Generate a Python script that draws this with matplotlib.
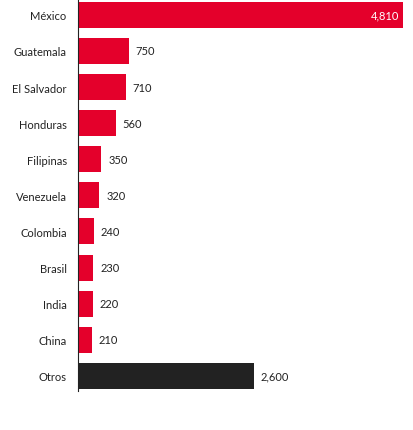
import matplotlib.pyplot as plt

countries = ['México', 'Guatemala', 'El Salvador', 'Honduras', 'Filipinas',
             'Venezuela', 'Colombia', 'Brasil', 'India', 'China', 'Otros']
values = [4810, 750, 710, 560, 350, 320, 240, 230, 220, 210, 2600]

plt.rcParams['font.family'] = ['Lato', 'DejaVu Sans']

fig = plt.figure(figsize=(4.14, 4.31), dpi=100)
ax = fig.add_axes([0.188, 0.0905, 0.785, 0.9095])

colors = ['#e4002b'] * (len(values) - 1) + ['#222222']
ypos = list(range(len(values)))
ax.barh(ypos, values, height=0.72, color=colors)

for y, v in zip(ypos, values):
    if v > 4000:
        ax.text(v - 60, y, f'{v:,}', ha='right', va='center', color='white', fontsize=8)
    else:
        ax.text(v + 100, y, f'{v:,}', ha='left', va='center', color='#222222', fontsize=8)

ax.set_yticks(ypos)
ax.set_yticklabels(countries, fontsize=8, color='#222222')
ax.tick_params(axis='y', length=0, pad=8)
ax.set_xticks([])
ax.set_xlim(0, 4810)
ax.set_ylim(10.42, -0.44)
for s in ['top', 'right', 'bottom']:
    ax.spines[s].set_visible(False)
ax.spines['left'].set_color('#222222')

fig.savefig('out.png', dpi=100)
